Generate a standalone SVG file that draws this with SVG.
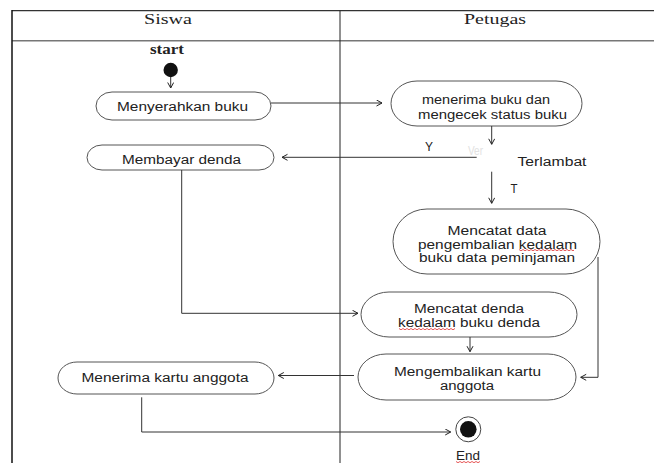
<svg xmlns="http://www.w3.org/2000/svg" width="654" height="463" viewBox="0 0 654 463">
<defs>
<marker id="arr" markerUnits="userSpaceOnUse" markerWidth="8" markerHeight="8" refX="6" refY="3.5" orient="auto">
<path d="M0.5,0.5 L6,3.5 L0.5,6.5" fill="none" stroke="#222" stroke-width="1"/>
</marker>
</defs>
<style>
.node rect{fill:#fff;stroke:#555;stroke-width:1}
.t{font-family:"Liberation Sans","Open Sans",sans-serif;font-size:12.5px;fill:#222;text-anchor:middle}
.h{font-family:"Liberation Serif",serif;font-size:14px;fill:#222;text-anchor:middle}
.c{fill:none;stroke:#333;stroke-width:1}
.sq{fill:none;stroke:#e03030;stroke-width:0.8}
</style>
<rect width="654" height="463" fill="#fff"/>
<g id="lanes">
<line x1="12" y1="10.7" x2="654" y2="10.7" stroke="#333" stroke-width="1.2"/>
<line x1="12" y1="40.7" x2="654" y2="40.7" stroke="#777" stroke-width="1.5"/>
<line x1="12" y1="10" x2="12" y2="463" stroke="#111" stroke-width="1.5"/>
<line x1="340" y1="10.7" x2="340" y2="463" stroke="#222" stroke-width="1"/>
<text class="h" x="168" y="24" textLength="48" lengthAdjust="spacingAndGlyphs">Siswa</text>
<text class="h" x="495" y="24" textLength="62" lengthAdjust="spacingAndGlyphs">Petugas</text>
</g>
<g id="start">
<text class="h" x="167" y="54" font-weight="bold" font-size="13" textLength="34" lengthAdjust="spacingAndGlyphs">start</text>
<ellipse cx="170.7" cy="70" rx="7.2" ry="7.2" fill="#111"/>
</g>
<g id="n1" class="node">
<rect x="96" y="92" width="175" height="28" rx="16" ry="14"/>
<text class="t" x="182.5" y="110.5" textLength="131" lengthAdjust="spacingAndGlyphs">Menyerahkan buku</text>
</g>
<g id="n2" class="node">
<rect x="391" y="81" width="191" height="45" rx="26" ry="22.5"/>
<text class="t" x="486" y="104" textLength="128" lengthAdjust="spacingAndGlyphs">menerima buku dan</text>
<text class="t" x="492.5" y="118.5" textLength="149" lengthAdjust="spacingAndGlyphs">mengecek status buku</text>
</g>
<g id="decision">
<text class="t" x="429" y="150.5" font-size="11" textLength="8" lengthAdjust="spacingAndGlyphs">Y</text>
<text class="t" x="475.5" y="155" font-size="10" fill="#e2e2e2" style="fill:#e2e2e2" textLength="15" lengthAdjust="spacingAndGlyphs">Ver</text>
<text class="t" x="552" y="166" textLength="69" lengthAdjust="spacingAndGlyphs">Terlambat</text>
<text class="t" x="514" y="192.5" font-size="11" textLength="7" lengthAdjust="spacingAndGlyphs">T</text>
</g>
<g id="n_bayar" class="node">
<rect x="87" y="145" width="187" height="25" rx="15" ry="12.5"/>
<text class="t" x="181.5" y="163.5" textLength="119" lengthAdjust="spacingAndGlyphs">Membayar denda</text>
</g>
<g id="n3" class="node">
<rect x="393" y="209" width="207" height="65" rx="34" ry="32.5"/>
<text class="t" x="497" y="234.5" textLength="99" lengthAdjust="spacingAndGlyphs">Mencatat data</text>
<text class="t" x="497.5" y="248.5" textLength="159" lengthAdjust="spacingAndGlyphs">pengembalian kedalam</text>
<text class="t" x="497" y="262" textLength="156" lengthAdjust="spacingAndGlyphs">buku data peminjaman</text>
<path class="sq" d="M519 249.5 l2 1.3 l2 -1.3 l2 1.3 l2 -1.3 l2 1.3 l2 -1.3 l2 1.3 l2 -1.3 l2 1.3 l2 -1.3 l2 1.3 l2 -1.3 l2 1.3 l2 -1.3 l2 1.3 l2 -1.3 l2 1.3 l2 -1.3 l2 1.3 l2 -1.3 l2 1.3 l2 -1.3 l2 1.3 l2 -1.3 l2 1.3 l2 -1.3 l2 1.3 l1 -0.6"/>
</g>
<g id="n4" class="node">
<rect x="361" y="292" width="216" height="45" rx="28" ry="22.5"/>
<text class="t" x="469" y="312.8" textLength="110" lengthAdjust="spacingAndGlyphs">Mencatat denda</text>
<text class="t" x="469" y="327" textLength="142" lengthAdjust="spacingAndGlyphs">kedalam buku denda</text>
<path class="sq" d="M399 328.5 l2 1.3 l2 -1.3 l2 1.3 l2 -1.3 l2 1.3 l2 -1.3 l2 1.3 l2 -1.3 l2 1.3 l2 -1.3 l2 1.3 l2 -1.3 l2 1.3 l2 -1.3 l2 1.3 l2 -1.3 l2 1.3 l2 -1.3 l2 1.3 l2 -1.3 l2 1.3 l2 -1.3 l2 1.3 l2 -1.3 l2 1.3 l2 -1.3 l2 1.3 l2 -1.3"/>
</g>
<g id="n5" class="node">
<rect x="358" y="354" width="218" height="46" rx="28" ry="23"/>
<text class="t" x="467.5" y="376" textLength="147" lengthAdjust="spacingAndGlyphs">Mengembalikan kartu</text>
<text class="t" x="467" y="390" textLength="54" lengthAdjust="spacingAndGlyphs">anggota</text>
</g>
<g id="n6" class="node">
<rect x="58" y="362" width="216" height="32" rx="19" ry="16"/>
<text class="t" x="165" y="382" textLength="167" lengthAdjust="spacingAndGlyphs">Menerima kartu anggota</text>
</g>
<g id="end">
<circle cx="468.3" cy="429.3" r="12.5" fill="#fff" stroke="#444" stroke-width="1"/>
<circle cx="468.3" cy="429.3" r="8.3" fill="#111"/>
<text class="t" x="468" y="459.5" textLength="24" lengthAdjust="spacingAndGlyphs">End</text>
<path class="sq" d="M456 461.5 l2 1.2 l2 -1.2 l2 1.2 l2 -1.2 l2 1.2 l2 -1.2 l2 1.2 l2 -1.2 l2 1.2 l2 -1.2 l2 1.2 l2 -1.2"/>
</g>
<g id="connectors" class="conn">
<path class="c" d="M170.7 77 V88" marker-end="url(#arr)"/>
<path class="c" d="M271 103 H382" marker-end="url(#arr)"/>
<path class="c" d="M491.7 126 V144.3" marker-end="url(#arr)"/>
<path class="c" d="M476.7 157.3 H282" marker-end="url(#arr)"/>
<path class="c" d="M491.7 171.7 V203.3" marker-end="url(#arr)"/>
<path class="c" d="M181.7 170 V313.3 H358" marker-end="url(#arr)"/>
<path class="c" d="M470 337 V351.7" marker-end="url(#arr)"/>
<path class="c" d="M598 257 V377.3 H580.7" marker-end="url(#arr)"/>
<path class="c" d="M354 375.5 H278.3" marker-end="url(#arr)"/>
<path class="c" d="M141.7 397.3 V432 H450.7" marker-end="url(#arr)"/>
</g>
</svg>
